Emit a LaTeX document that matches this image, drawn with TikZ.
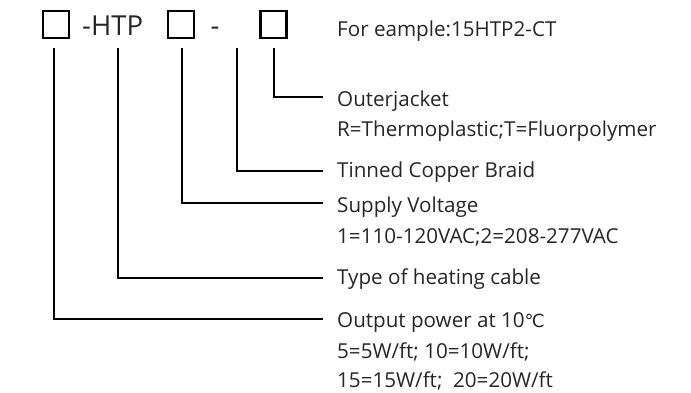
\documentclass[tikz,border=0pt]{standalone}
\usepackage{fontspec}
\setmainfont{Open Sans}
\newfontfamily\symfont{DejaVu Sans}
\begin{document}
\begin{tikzpicture}[x=1pt,y=-1pt,
  codebox/.style={draw=black,line width=2.6pt,minimum width=26pt,minimum height=27pt,inner sep=0pt},
  conn/.style={draw=black,line width=2pt},
  lbl/.style={anchor=base west,inner sep=0pt,font=\fontsize{20.6}{25}\selectfont,text=black!85},
  big/.style={anchor=base west,inner sep=0pt,font=\fontsize{27.5}{32}\selectfont,text=black!85}]
\useasboundingbox (0,0) rectangle (691,392);
% code boxes
\node[codebox] (b1) at (56,24.5) {};
\node[codebox] (b2) at (181,24.5) {};
\node[codebox] (b3) at (273.5,24.5) {};
\node[big] (htp) at (82,35) {-HTP};
\node[big] (dash) at (210.5,35) {-};
\node[lbl] (ex) at (337,36) {For eample:15HTP2-CT};
% labels
\node[lbl] (t1) at (337,106) {Outerjacket};
\node[lbl] (t1b) at (337,136) {R=Thermoplastic;T=Fluorpolymer};
\node[lbl] (t2) at (337,177) {Tinned Copper Braid};
\node[lbl] (t3) at (337,212) {Supply Voltage};
\node[lbl] (t3b) at (337,243) {1=110-120VAC;2=208-277VAC};
\node[lbl] (t4) at (337,284) {Type of heating cable};
\node[lbl] (t5) at (337,327) {Output power at 10{\symfont\fontsize{18}{21}\selectfont ℃}};
\node[lbl] (t5b) at (337,358) {5=5W/ft; 10=10W/ft;};
\node[lbl] (t5c) at (337,387.5) {15=15W/ft;\ \ 20=20W/ft};
% connector starts and ends
\coordinate (s1) at (54,48);
\coordinate (s2) at (117.7,48);
\coordinate (s3) at (181.7,48);
\coordinate (s4) at (236.7,48);
\coordinate (s5) at (274.3,48);
\coordinate (e5) at (322.7,97.3);
\coordinate (e4) at (322.7,171);
\coordinate (e3) at (322.7,203.3);
\coordinate (e2) at (322.7,278);
\coordinate (e1) at (322.7,319.3);
\draw[conn] (s5) |- (e5);
\draw[conn] (s4) |- (e4);
\draw[conn] (s3) |- (e3);
\draw[conn] (s2) |- (e2);
\draw[conn] (s1) |- (e1);
\end{tikzpicture}
\end{document}
